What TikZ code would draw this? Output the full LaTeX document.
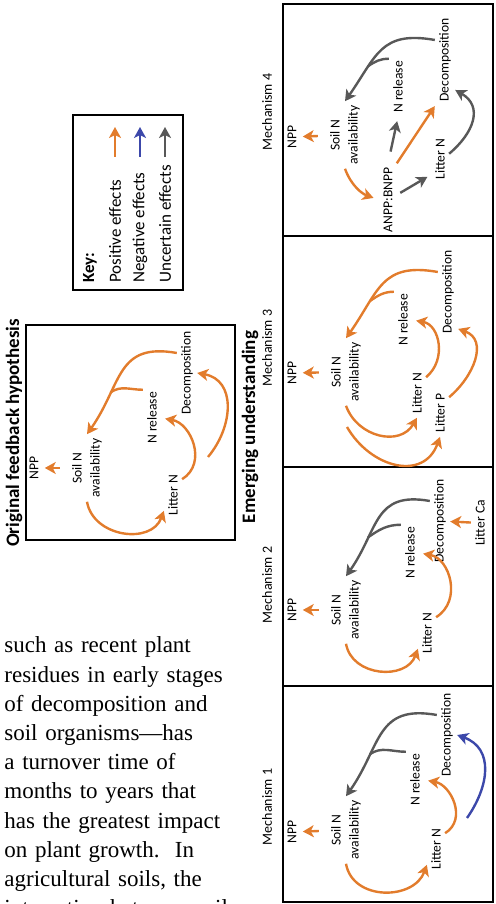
\documentclass[tikz,border=0pt]{standalone}
\usepackage{fontspec}
\setmainfont{Carlito}
\newfontfamily\bookfont{Liberation Serif}
\usepackage{tikz}
\usetikzlibrary{arrows.meta,calc}

\definecolor{posorange}{RGB}{226,124,44}
\definecolor{negblue}{RGB}{60,72,170}
\definecolor{uncgray}{RGB}{88,88,88}

\tikzset{
  lbl/.style={font=\fontsize{6.8}{9}\selectfont, inner sep=2pt, align=center},
  mechlbl/.style={font=\fontsize{7}{8}\selectfont, inner sep=0pt},
  headlbl/.style={font=\fontsize{9.5}{11}\selectfont\bfseries, inner sep=0pt},
  keylbl/.style={font=\fontsize{8.5}{10}\selectfont, inner sep=0pt, anchor=west},
  posarr/.style={draw=posorange, line width=1.2pt, -{Stealth[length=5.5pt,width=6pt,inset=1.5pt]}},
  negarr/.style={posarr, draw=negblue},
  uncarr/.style={posarr, draw=uncgray},
  poslink/.style={draw=posorange, line width=1.2pt},
  unclink/.style={draw=uncgray, line width=1.2pt},
  panelbox/.style={draw, line width=1pt}
}

\begin{document}
\begin{tikzpicture}[x=0.5pt, y=0.5pt]
\useasboundingbox (0,0) rectangle (496,904);

% running text of the page
\node[anchor=base west, text width=125pt, align=left, inner sep=0pt,
      font=\bookfont\fontsize{11.5}{14.6}\selectfont] (para) at (4,251)
  {such as recent plant\\
   residues in early stages\\
   of decomposition and\\
   soil organisms—has\\
   a turnover time of\\
   months to years that\\
   has the greatest impact\\
   on plant growth.\ \ In\\
   agricultural soils, the\\
   interaction between soil};

\begin{scope}[shift={(496,0)}, rotate=90, transform shape]

  % original hypothesis
  \draw[panelbox] (364,261) rectangle (579,470);
  \node[headlbl] (title0) at (471,482) {Original feedback hypothesis};
  \node[lbl] (npp0) at (436,462) {NPP};
  \node[lbl] (soil0) at (436,409) {Soil N\\availability};
  \node[lbl] (nrel0) at (486,344) {N release};
  \node[lbl] (dec0) at (531,309) {Decomposition};
  \node[lbl] (lit0) at (409,323) {Litter N};
  \coordinate (out0) at (447,288);
  \draw[posarr, shorten <=4pt, shorten >=1pt] (soil0) -- (npp0);
  \draw[posarr] (soil0.west) to[out=190,in=160,looseness=1.2] (lit0.150);
  \draw[posarr, shorten >=2pt] (lit0.-30) to[out=-58,in=-100,looseness=1.2] (nrel0.south);
  \draw[posarr] (out0) to[out=-40,in=-100,looseness=1.2] (dec0.south);
  \draw[posarr] (dec0.27) to[out=80,in=-35,looseness=1.3] coordinate[pos=0.7] (join0) (soil0.east);
  \draw[poslink] (nrel0.18) to[out=90,in=-55] (join0);

  % key
  \draw[line width=0.6pt] (614,313) rectangle (789,423);
  \node[keylbl, font=\fontsize{8.5}{10}\selectfont\bfseries] (key) at (621,406) {Key:};
  \node[keylbl] (posk) at (621,381) {Positive effects};
  \node[keylbl] (negk) at (621,356) {Negative effects};
  \node[keylbl] (unck) at (621,331) {Uncertain effects};
  \coordinate (posk1) at (747,381);
  \coordinate (posk2) at (777,381);
  \coordinate (negk1) at (747,356);
  \coordinate (negk2) at (777,356);
  \coordinate (unck1) at (747,331);
  \coordinate (unck2) at (777,331);
  \draw[posarr] (posk1) -- (posk2);
  \draw[negarr] (negk1) -- (negk2);
  \draw[uncarr] (unck1) -- (unck2);

  % emerging understanding
  \node[headlbl] (title1) at (477,246) {Emerging understanding};
  \draw[panelbox] (2,3) rectangle (900,213);
  \draw[line width=1pt] (218,3) -- (218,213);
  \draw[line width=1pt] (437,3) -- (437,213);
  \draw[line width=1pt] (668,3) -- (668,213);
  \node[mechlbl] (mech1) at (97,229) {Mechanism 1};
  \node[mechlbl] (mech2) at (319,229) {Mechanism 2};
  \node[mechlbl] (mech3) at (556,229) {Mechanism 3};
  \node[mechlbl] (mech4) at (792,229) {Mechanism 4};

  % mechanism 1
  \node[lbl] (npp1) at (72,204) {NPP};
  \node[lbl] (soil1) at (74,150) {Soil N\\availability};
  \node[lbl] (nrel1) at (124,81) {N release};
  \node[lbl] (dec1) at (169,49) {Decomposition};
  \node[lbl] (lit1) at (55,60) {Litter N};
  \coordinate (out1) at (86,29);
  \draw[posarr, shorten <=4pt, shorten >=1pt] (soil1) -- (npp1);
  \draw[posarr] (soil1.west) to[out=190,in=160,looseness=1.2] (lit1.150);
  \draw[posarr, shorten >=2pt] (lit1.-30) to[out=-58,in=-100,looseness=1.2] (nrel1.south);
  \draw[negarr] (out1) to[out=-35,in=-110,looseness=1.2] (dec1.south);
  \draw[uncarr] (dec1.27) to[out=80,in=-35,looseness=1.3] coordinate[pos=0.7] (join1) (soil1.east);
  \draw[unclink] (nrel1.18) to[out=90,in=-55] (join1);

  % mechanism 2
  \node[lbl] (npp2) at (294,204) {NPP};
  \node[lbl] (soil2) at (294,150) {Soil N\\availability};
  \node[lbl] (nrel2) at (351,86) {N release};
  \node[lbl] (dec2) at (383,56) {Decomposition};
  \node[lbl] (lit2) at (271,69) {Litter N};
  \node[lbl] (ca2) at (381,16) {Litter Ca};
  \draw[posarr, shorten <=4pt, shorten >=1pt] (soil2) -- (npp2);
  \draw[posarr] (soil2.west) to[out=190,in=160,looseness=1.2] (lit2.150);
  \draw[posarr, shorten >=2pt] (lit2.-30) to[out=-58,in=-100,looseness=1.2] (nrel2.south);
  \draw[posarr] (ca2) -- (dec2);
  \draw[uncarr] (dec2.27) to[out=80,in=-35,looseness=1.3] coordinate[pos=0.7] (join2) (soil2.east);
  \draw[unclink] (nrel2.18) to[out=90,in=-55] (join2);

  % mechanism 3
  \node[lbl] (npp3) at (531,204) {NPP};
  \node[lbl] (soil3) at (532,150) {Soil N\\availability};
  \node[lbl] (nrel3) at (584,93) {N release};
  \node[lbl] (dec3) at (612,48) {Decomposition};
  \node[lbl] (litn3) at (511,79) {Litter N};
  \node[lbl] (litp3) at (491,56) {Litter P};
  \coordinate (in3) at (477,149);
  \draw[posarr, shorten <=4pt, shorten >=1pt] (soil3) -- (npp3);
  \draw[posarr] (soil3.west) to[out=200,in=150,looseness=1.2] (litn3.west);
  \draw[posarr] (in3) to[out=210,in=160,looseness=1.3] (litp3.west);
  \draw[posarr, shorten >=2pt] (litn3.-30) to[out=-50,in=-100,looseness=1.2] (nrel3.south);
  \draw[posarr] (litp3.-30) to[out=-50,in=-110,looseness=1.2] ($(dec3.south west)!0.2!(dec3.south)$);
  \draw[posarr] (dec3.27) to[out=80,in=-35,looseness=1.3] coordinate[pos=0.7] (join3) (soil3.east);
  \draw[poslink] (nrel3.18) to[out=90,in=-55] (join3);

  % mechanism 4
  \node[lbl] (npp4) at (767,204) {NPP};
  \node[lbl] (soil4) at (769,151) {Soil N\\availability};
  \node[lbl] (nrel4) at (817,98) {N release};
  \node[lbl] (dec4) at (844,51) {Decomposition};
  \node[lbl] (anpp4) at (704,108) {ANPP:BNPP};
  \node[lbl] (lit4) at (745,56) {Litter N};
  \draw[posarr, shorten <=4pt, shorten >=1pt] (soil4) -- (npp4);
  \draw[posarr, shorten >=3pt] (soil4.west) to[out=200,in=70] (anpp4.north);
  \draw[uncarr, shorten <=6pt, shorten >=2pt] (anpp4.east) -- (nrel4.west);
  \draw[posarr] (anpp4.south east) -- (dec4.north west);
  \draw[uncarr, shorten <=2pt, shorten >=2pt] (anpp4.-60) -- (lit4.150);
  \draw[uncarr] (lit4.-60) to[out=-50,in=-120,looseness=1.3] ($(dec4.south west)!0.35!(dec4.south)$);
  \draw[uncarr] (dec4.27) to[out=80,in=-35,looseness=1.3] coordinate[pos=0.7] (join4) (soil4.east);
  \draw[unclink] (nrel4.18) to[out=90,in=-55] (join4);

\end{scope}
\end{tikzpicture}
\end{document}
